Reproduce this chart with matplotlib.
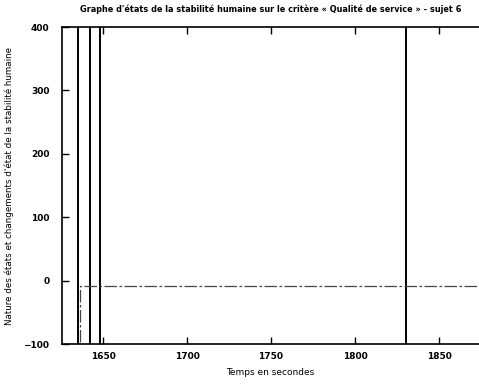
import matplotlib
matplotlib.use("Agg")
import matplotlib.pyplot as plt

# data
state_times = [1625.6, 1636.5, 1636.5, 1874.0]
state_values = [-100, -100, -8, -8]
change_times = [1635.0, 1642.0, 1648.0, 1830.2]
change_low = -100
change_high = 400
x_ticks = [1650, 1700, 1750, 1800, 1850]
y_ticks = [-100, 0, 100, 200, 300, 400]

title = "Graphe d'états de la stabilité humaine sur le critère « Qualité de service » - sujet 6"
xlabel = "Temps en secondes"
ylabel = "Nature des états et changements d'état de la stabilité humaine"

fig = plt.figure(figsize=(4.79, 3.87), dpi=100)
ax = fig.add_axes([0.1294, 0.111, 0.8706, 0.819])

# transitions (full-height spikes)
ax.vlines(change_times, change_low, change_high, color="black", lw=1.4)
# current state line
ax.plot(state_times, state_values, color="#444444", lw=0.9,
        linestyle=(0, (10, 2, 2, 2)))

ax.set_xlim(1625.6, 1873.8)
ax.set_ylim(-100, 400)
ax.set_xticks(x_ticks)
ax.set_yticks(y_ticks)
ax.tick_params(direction="in", length=5, width=1, top=True, right=False,
               labelsize=6.5)
ax.tick_params(axis="y", pad=9)
ax.tick_params(axis="x", pad=6)
for lab in ax.get_xticklabels() + ax.get_yticklabels():
    lab.set_fontweight("bold")
ax.spines["right"].set_visible(False)
for s in ("left", "top", "bottom"):
    ax.spines[s].set_linewidth(1.2)

ax.set_title(title, fontsize=5.9, fontweight="bold", pad=11)
ax.set_xlabel(xlabel, fontsize=6.5, labelpad=5)
ax.set_ylabel(ylabel, fontsize=6.3, labelpad=7)

fig.savefig("out.png", dpi=100)
